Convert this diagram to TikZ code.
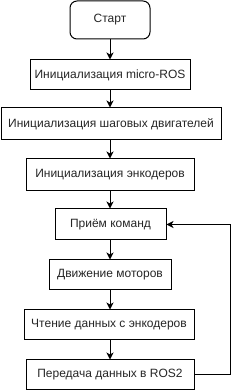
\documentclass[tikz,border=0pt]{standalone}
\usepackage{fontspec}
\setmainfont{Liberation Sans}
\usetikzlibrary{arrows.meta}
\begin{document}
\begin{tikzpicture}[x=1pt,y=1pt,
  box/.style={draw=black,line width=1pt,fill=white,inner sep=0pt,minimum height=30pt,
    font=\fontsize{12}{14}\selectfont,text=black!85},
  arr/.style={draw=black,line width=1pt,-{Stealth[length=7pt,width=7pt,inset=2pt]}},
  link/.style={draw=black,line width=1pt}]
\useasboundingbox (0,0) rectangle (239,391);
\fill[white] (0,0) rectangle (239,391);
\node[box,rounded corners=7pt,minimum width=80pt,minimum height=38pt] (start) at (110,371) {Старт};
\node[box,minimum width=160pt] (b2) at (110,316) {Инициализация micro-ROS};
\node[box,minimum width=220pt,minimum height=32pt] (b3) at (111,267) {Инициализация шаговых двигателей};
\node[box,minimum width=168pt,minimum height=32pt] (b4) at (110,216) {Инициализация энкодеров};
\node[box,minimum width=111pt,minimum height=31pt] (b5) at (110.5,166.5) {Приём команд};
\node[box,minimum width=122pt] (b6) at (110,116) {Движение моторов};
\node[box,minimum width=170pt] (b7) at (109,66) {Чтение данных с энкодеров};
\node[box,minimum width=168pt] (b8) at (110,16) {Передача данных в ROS2};
\coordinate (loop) at (230,0);
\draw[arr] (start.south) -- (start.south |- b2.north);
\draw[arr] (b2.south) -- (b2.south |- b3.north);
\draw[arr] (b2.south |- b3.south) -- (b2.south |- b4.north);
\draw[arr] (b4.south) -- (b4.south |- b5.north);
\draw[arr] (b4.south |- b5.south) -- (b4.south |- b6.north);
\draw[arr] (b6.south) -- (b6.south |- b7.north);
\draw[arr] (b6.south |- b7.south) -- (b6.south |- b8.north);
\draw[arr] (b8.east) -- (b8.east -| loop) |- (b5.east);
\end{tikzpicture}
\end{document}
